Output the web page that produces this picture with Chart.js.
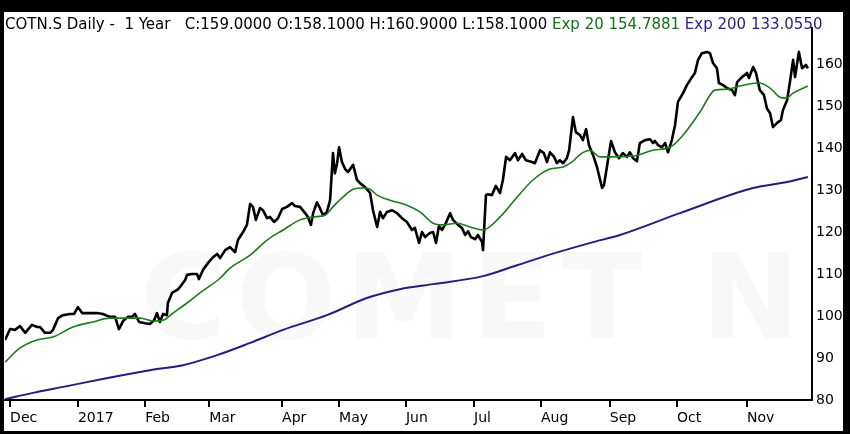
<!DOCTYPE html>
<html lang="en">
<head>
    <meta charset="UTF-8">
    <title>COTN.S Daily - 1 Year</title>
    <script src="https://cdn.jsdelivr.net/npm/chart.js"></script>
    <style>
        html, body {
            margin: 0;
            padding: 0;
            background: #000;
            width: 850px;
            height: 434px;
            overflow: hidden;
        }
        .frame {
            position: absolute;
            left: 4px;
            top: 12px;
            width: 839px;
            height: 419px;
            background: #fff;
        }
        .header {
            position: absolute;
            left: 5px;
            top: 15px;
            font-family: "DejaVu Sans", sans-serif;
            font-size: 15px;
            white-space: pre;
            color: #000;
            z-index: 2;
        }
        .ema20 { color: #16701a; }
        .ema200 { color: #2c1c80; }
    </style>
</head>
<body>
    <div class="frame">
        <canvas id="priceChart"></canvas>
    </div>
    <div class="header">COTN.S Daily -  1 Year   C:159.0000 O:158.1000 H:160.9000 L:158.1000 <span class="ema20">Exp 20 154.7881</span> <span class="ema200">Exp 200 133.0550</span></div>

    <script>
        // x = trading day since start of window (approx.)
        const priceDays = [0,1.6,3.1,4.7,6.3,8.4,10,10.9,12.5,14.1,
            15,16.6,18.1,20.3,21.6,22.8,24.1,25.9,28.8,30.6,
            32.8,34.4,35.6,36.9,38.4,39.7,40.6,41.9,43.8,45.3,
            46.6,47.5,48.4,49.4,50.6,50.9,52.2,53.8,54.7,56.3,
            56.9,58.4,60,60.6,61.9,63.4,65,66.3,67.2,68.8,
            70.3,71.9,72.8,74.4,75.6,76.6,77.5,78.4,79.7,80.6,
            81.9,82.8,84.1,85.3,86.6,88.1,89.7,90.6,92.2,93.8,
            94.7,95.6,96.3,97.5,98.4,99.4,100.6,101.6,102.5,103.1,
            103.8,104.4,105.3,106.3,107.2,108.8,110,110.9,112.5,114.1,
            115,116.3,117.2,118.1,119.4,120.9,122.5,124.1,125.6,127.2,
            128.1,129.4,130.3,131.3,132.8,133.8,134.7,135.6,136.6,137.5,
            139.1,140,141.6,142.8,143.8,144.7,145.6,146.9,147.8,149.1,
            149.4,150.3,150.9,152.2,153.4,154.7,155.6,156.6,157.8,159.4,
            160.3,161.6,162.8,164.7,165.6,167.2,168.4,169.4,170.3,171.6,
            172.5,173.4,174.4,175.6,176.3,177.5,178.4,179.7,180.6,181.6,
            182.5,183.8,185,186.6,187.2,188.1,189.4,190.6,191.9,193.1,
            194.4,195.3,196.3,197.5,198.4,200,201.6,202.5,203.1,204.1,
            205.3,206.3,207.2,208.4,209.4,210.3,211.9,213.1,214.7,215.6,
            216.6,217.8,219.4,220.3,221.3,222.5,223.1,224.4,225.6,227.2,
            228.1,228.8,230.3,231.9,232.5,233.8,234.7,235.9,237.2,238.1,
            239.1,240,241.3,242.5,243.1,244.4,245.3,246.3,246.9,248.1,
            249.1,250.3,250.9];
        const priceClose = [94.3,96.9,96.7,97.6,96.0,97.9,97.4,97.4,96.0,96.0,
            96.7,99.5,100.2,100.5,100.5,102.1,100.7,100.7,100.7,100.5,
            99.8,99.8,96.9,98.8,99.8,99.8,100.5,98.6,98.3,98.1,
            99.0,100.7,98.6,100.5,100.2,103.1,105.5,106.2,106.9,108.6,
            109.8,110.0,110.0,108.8,111.0,112.6,114.0,114.8,113.8,115.7,
            116.4,115.2,118.1,120.0,121.7,126.7,126.0,122.9,125.7,125.2,
            123.3,123.6,122.4,123.3,125.5,126.0,126.9,126.2,126.0,124.5,
            123.6,121.7,124.5,127.1,125.7,124.0,124.8,127.6,138.8,134.0,
            136.4,140.2,136.7,135.0,134.3,136.0,132.4,131.7,130.7,129.3,
            125.2,121.2,124.8,123.3,124.8,125.2,124.5,123.3,122.4,120.5,
            121.0,117.4,120.0,118.8,119.8,120.0,117.4,121.4,120.5,121.7,
            124.5,122.9,121.7,121.0,119.3,120.2,118.8,118.3,119.3,117.6,
            115.7,128.8,129.0,128.8,131.0,129.3,132.4,137.9,137.1,138.8,
            137.1,138.6,137.1,136.7,136.4,139.5,138.8,136.7,139.0,137.9,
            136.4,137.1,136.4,137.6,139.5,147.4,143.8,143.1,141.9,144.5,
            140.7,138.3,135.5,130.5,131.2,135.5,141.7,139.0,137.6,138.8,
            137.9,139.0,137.6,136.9,141.2,141.9,142.1,141.2,141.7,140.7,
            140.2,141.2,139.0,141.9,145.5,151.0,153.1,155.0,156.9,157.9,
            161.0,162.6,162.9,162.6,160.2,159.0,155.5,155.0,154.3,153.8,
            152.6,155.7,156.9,157.9,156.7,159.3,157.9,153.8,152.6,149.5,
            148.3,145.0,146.0,146.7,149.0,151.4,155.7,161.0,156.9,162.9,
            159.0,159.8,159.0];

        const ema20Days = [0,4.7,10,15,21.3,27.5,32.8,38.1,42.2,46.3,
            49.4,52.5,56.9,60.9,67.2,70.3,76.6,81.9,86.9,92.2,
            96.3,100,102.5,105.6,108.8,111.9,114.1,116.3,120.3,125.6,
            129.7,133.8,136.9,141.3,145.3,149.4,154.7,160,165,170.3,
            174.4,177.2,180.3,182.8,185.9,189.1,196.3,202.5,207.8,211.9,
            217.2,221.9,225.6,229.7,235.6,239.1,242.2,244.1,246.3,250.9];
        const ema20Vals = [89.0,92.4,94.3,95.0,97.4,98.6,99.5,99.5,99.5,98.8,
            99.0,100.7,103.1,105.5,109.0,111.4,114.5,118.1,120.5,122.9,
            123.6,124.0,126.0,128.3,130.2,130.5,130.2,128.8,127.6,126.4,
            124.8,122.1,121.7,122.1,121.2,120.5,123.6,128.3,132.4,135.0,
            135.5,136.7,138.8,139.5,137.9,137.9,138.1,139.5,140.2,143.1,
            148.6,153.8,154.0,154.8,155.5,154.3,152.1,151.9,153.1,154.8];

        const ema200Days = [0,8.8,19.4,29.7,45.3,55.6,66.3,76.6,86.9,100.6,
            113.1,123.4,133.8,149.4,160,169.7,183.8,192.2,210.9,233.8,244.4,250.9];
        const ema200Vals = [80.2,81.7,83.3,84.9,87.1,88.3,90.7,93.6,96.7,100.2,
            104.3,106.4,107.6,109.5,112.1,114.5,117.6,119.3,124.5,130.5,131.9,133.1];

        const monthDays = [1.6,22.8,43.8,63.8,86.6,104.4,125.3,146.6,167.5,189,210,231.9];
        const monthLabels = ['Dec','2017','Feb','Mar','Apr','May','Jun','Jul','Aug','Sep','Oct','Nov'];
        const priceTicks = [80,90,100,110,120,130,140,150,160];

        const toPoints = (xs, ys) => xs.map((x, i) => ({ x: x, y: ys[i] }));

        // faint background watermark
        const watermark = {
            id: 'watermark',
            beforeDatasetsDraw(chart) {
                const ctx = chart.ctx;
                const area = chart.chartArea;
                ctx.save();
                ctx.font = 'bold 118px "DejaVu Sans"';
                ctx.fillStyle = '#f8f8f8';
                const txt = 'COMET N';
                const w = ctx.measureText(txt).width;
                const spacing = Math.max(0, (660 - w) / (txt.length - 1));
                ctx.letterSpacing = spacing + 'px';
                ctx.textBaseline = 'alphabetic';
                ctx.fillText(txt, area.left + 135, area.top + 310);
                ctx.restore();
            }
        };

        const ctx = document.getElementById('priceChart').getContext('2d');
        new Chart(ctx, {
            type: 'line',
            data: {
                datasets: [
                    {
                        label: 'Exp 200',
                        data: toPoints(ema200Days, ema200Vals),
                        borderColor: '#2a1a7c',
                        borderWidth: 2,
                        pointRadius: 0,
                        cubicInterpolationMode: 'monotone'
                    },
                    {
                        label: 'Exp 20',
                        data: toPoints(ema20Days, ema20Vals),
                        borderColor: '#1d7a1d',
                        borderWidth: 1.6,
                        pointRadius: 0,
                        cubicInterpolationMode: 'monotone'
                    },
                    {
                        label: 'COTN.S',
                        data: toPoints(priceDays, priceClose),
                        borderColor: '#000',
                        borderWidth: 2.6,
                        pointRadius: 0,
                        tension: 0,
                        borderJoinStyle: 'round'
                    }
                ]
            },
            options: {
                responsive: true,
                maintainAspectRatio: false,
                animation: false,
                events: [],
                layout: {
                    padding: { top: 16, left: 1, right: 0, bottom: 0 }
                },
                plugins: {
                    legend: { display: false },
                    tooltip: { enabled: false }
                },
                scales: {
                    x: {
                        type: 'linear',
                        min: 0,
                        max: 252.2,
                        afterBuildTicks: (scale) => {
                            scale.ticks = monthDays.map(v => ({ value: v }));
                        },
                        afterFit: (scale) => { scale.height = 31; },
                        border: { display: true, color: '#000', width: 2 },
                        grid: {
                            drawOnChartArea: false,
                            drawTicks: true,
                            tickLength: 7,
                            color: '#000',
                            lineWidth: 2
                        },
                        ticks: {
                            autoSkip: false,
                            maxRotation: 0,
                            align: 'start',
                            padding: 3,
                            color: '#000',
                            font: { family: 'DejaVu Sans', size: 14 },
                            callback: (value, index) => monthLabels[index]
                        }
                    },
                    y: {
                        position: 'right',
                        min: 80,
                        max: 168.6,
                        afterBuildTicks: (scale) => {
                            scale.ticks = priceTicks.map(v => ({ value: v }));
                        },
                        afterFit: (scale) => { scale.width = 31; },
                        border: { display: true, color: '#000', width: 2 },
                        grid: { drawOnChartArea: false, drawTicks: false },
                        ticks: {
                            padding: 4,
                            color: '#000',
                            font: { family: 'DejaVu Sans', size: 14 }
                        }
                    }
                }
            },
            plugins: [watermark]
        });
    </script>
</body>
</html>
